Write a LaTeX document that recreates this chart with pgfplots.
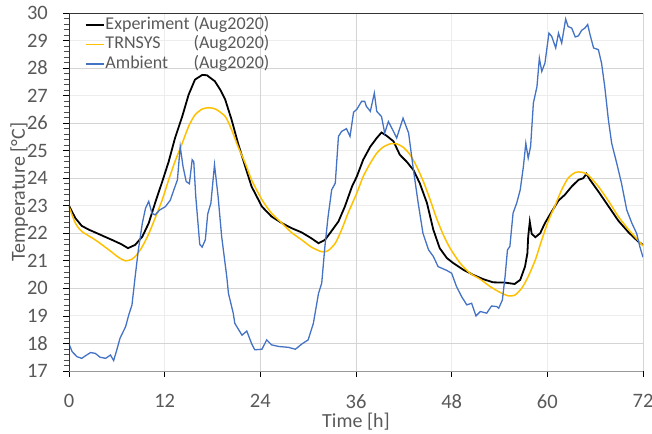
\documentclass[border=0pt]{standalone}
\usepackage{fontspec}
\setmainfont{Carlito}
\usepackage{pgfplots}
\pgfplotsset{compat=1.18}
\definecolor{expc}{HTML}{000000}
\definecolor{trn}{HTML}{FFC000}
\definecolor{amb}{HTML}{4472C4}
\definecolor{txt}{HTML}{595959}
\definecolor{gridA}{HTML}{D4D4D4}
\definecolor{gridB}{HTML}{EDEDED}
\begin{document}
\begin{tikzpicture}
\path[use as bounding box] (-69pt,-62pt) rectangle (583pt,371pt);
\begin{axis}[
  scale only axis, width=574pt, height=358pt,
  xmin=0, xmax=72, ymin=17, ymax=30,
  xtick={0,12,...,72}, ytick={17,...,30},
  minor y tick num=4,
  xtick pos=bottom, ytick pos=left,
  tick align=outside,
  major tick length=6pt, minor tick length=5pt,
  tick style={black, line width=0.7pt},
  minor tick style={black!70, line width=0.6pt},
  grid=major,
  major grid style={draw=gridB, line width=0.9pt},
  extra y ticks={18,20,...,28},
  extra y tick labels={},
  extra y tick style={grid=major, major grid style={draw=gridA, line width=0.9pt}},
  extra x ticks={24,36},
  extra x tick labels={},
  extra x tick style={grid=major, major grid style={draw=gridA, line width=0.9pt}},
  axis line style={draw=none},
  /pgf/number format/assume math mode=true,
  ticklabel style={font=\fontsize{20.5}{24}\selectfont, text=txt},
  yticklabel style={anchor=east, inner sep=0pt, xshift=-15pt},
  xticklabel style={anchor=north, inner sep=0pt, yshift=-17pt},
  xlabel={Time [h]},
  ylabel={Temperature [°C]},
  label style={font=\fontsize{20}{24}\selectfont, text=txt},
  xlabel style={at={(axis description cs:0.5,-0.1592)}, anchor=base, inner sep=0pt},
  ylabel style={at={(axis description cs:-0.0767,0.5)}, anchor=base, inner sep=0pt},
  legend style={at={(0.027,0.994)}, anchor=north west, draw=none, fill=none,
    font=\fontsize{18}{20}\selectfont, text=txt, inner sep=0pt, row sep=0pt,
    nodes={inner sep=1pt, text height=13pt, text depth=4.5pt}},
  legend cell align=left,
  legend image code/.code={\draw[#1] (0pt,0pt) -- (18pt,0pt);},
]
\addplot[expc, line width=1.8pt] coordinates {
(0,23.0) (0.8,22.55) (1.6,22.27) (2.5,22.13) (3.3,22.03) (4.3,21.9) (5.4,21.76) (6.6,21.6) (7.4,21.46) (8.3,21.58) (9.2,21.88) (10.0,22.37) (10.8,23.1) (11.7,23.88) (12.5,24.6) (13.3,25.46) (14.2,26.24) (15.0,27.03) (15.8,27.58) (16.7,27.75) (17.3,27.74) (18.3,27.52) (19.0,27.2) (19.6,26.85) (20.4,26.12) (21.2,25.27) (22.1,24.43) (22.9,23.7) (24.2,22.97) (25.4,22.61) (26.7,22.37) (27.9,22.19) (29.2,22.03) (30.4,21.82) (31.3,21.64) (32.1,21.76) (32.9,22.07) (33.8,22.43) (34.6,22.97) (35.5,23.7) (36.1,24.06) (36.9,24.67) (37.8,25.15) (38.6,25.46) (39.2,25.66) (39.85,25.54) (40.7,25.34) (41.5,24.85) (42.36,24.6) (43.2,24.3) (44.0,23.82) (44.9,23.1) (45.7,22.13) (46.5,21.46) (47.4,21.1) (48.2,20.92) (49.5,20.67) (50.7,20.49) (52.0,20.33) (53.2,20.22) (54.7,20.21) (55.9,20.16) (56.6,20.31) (57.2,20.79) (57.5,21.28) (57.6,21.88) (57.8,22.42) (58.04,21.98) (58.5,21.86) (59.1,22.0) (59.7,22.37) (60.55,22.79) (61.4,23.19) (62.2,23.4) (63.06,23.7) (63.9,23.94) (64.5,24.0) (64.9,24.16) (65.36,23.94) (66.4,23.52) (67.7,22.97) (68.9,22.46) (70.2,22.03) (71.4,21.7) (72.0,21.58)
};
\addlegendentry{Experiment (Aug2020)}
\addplot[trn, line width=1.5pt, smooth, tension=0.4] coordinates {
(0,22.97) (0.8,22.37) (1.6,22.07) (3.3,21.76) (5.0,21.4) (6.2,21.13) (7.1,21.0) (7.9,21.06) (8.5,21.22) (9.2,21.52) (10.0,21.98) (10.8,22.55) (11.7,23.22) (12.5,23.94) (13.3,24.61) (14.2,25.27) (15.0,25.88) (15.8,26.3) (16.7,26.51) (17.5,26.56) (18.4,26.51) (19.6,26.24) (20.4,25.76) (21.2,25.15) (22.1,24.55) (22.9,23.94) (24.2,23.22) (25.4,22.73) (26.7,22.37) (27.9,22.03) (29.2,21.76) (30.4,21.5) (31.7,21.33) (32.5,21.37) (33.4,21.64) (34.2,22.13) (35.0,22.73) (36.1,23.46) (36.9,24.06) (37.8,24.55) (38.6,24.91) (39.4,25.13) (40.3,25.25) (41.1,25.25) (41.9,25.13) (42.8,24.85) (43.6,24.43) (44.45,23.88) (45.3,23.22) (46.1,22.55) (46.96,21.94) (47.8,21.46) (49.05,20.92) (50.3,20.55) (51.6,20.33) (52.8,20.07) (54.1,19.85) (55.1,19.73) (55.9,19.75) (56.8,20.01) (57.6,20.43) (58.5,21.04) (59.3,21.76) (60.1,22.43) (61.0,23.03) (61.8,23.58) (62.6,24.0) (63.5,24.21) (64.3,24.22) (65.1,24.12) (66.4,23.7) (67.7,23.16) (68.9,22.61) (70.2,22.13) (71.4,21.74) (72.0,21.54)
};
\addlegendentry{\rlap{TRNSYS}\phantom{Experiment} (Aug2020)}
\addplot[amb, line width=1.3pt] coordinates {
(0,17.98) (0.4,17.7) (1.0,17.52) (1.6,17.46) (2.05,17.55) (2.7,17.67) (3.3,17.64) (3.9,17.5) (4.6,17.46) (5.2,17.58) (5.6,17.38) (6.0,17.77) (6.4,18.19) (7.1,18.61) (7.5,19.04) (7.9,19.4) (8.3,20.43) (8.7,21.4) (9.2,22.37) (9.6,22.91) (10.0,23.16) (10.4,22.73) (10.8,22.67) (11.4,22.85) (12.1,22.97) (12.7,23.2) (13.3,23.7) (13.6,23.94) (13.95,25.15) (14.3,24.43) (14.7,23.88) (15.1,23.8) (15.45,24.67) (15.65,24.6) (15.9,23.34) (16.4,21.6) (16.7,21.5) (17.1,21.76) (17.4,22.7) (17.8,23.1) (18.25,24.49) (18.7,23.34) (19.15,21.88) (19.8,20.4) (20.0,19.82) (20.6,19.1) (20.8,18.73) (21.7,18.3) (22.3,18.45) (22.9,18.0) (23.3,17.77) (24.2,17.79) (24.8,18.13) (25.4,17.95) (26.3,17.89) (27.5,17.86) (28.4,17.79) (29.2,17.98) (30.0,18.13) (30.65,18.73) (31.3,19.82) (31.7,20.19) (32.1,21.52) (32.5,22.61) (32.95,23.58) (33.4,23.82) (33.8,25.52) (34.2,25.7) (34.8,25.8) (35.25,25.52) (35.7,26.4) (36.1,26.5) (36.7,26.79) (37.1,26.79) (37.3,26.61) (37.8,26.43) (38.3,27.09) (38.6,26.43) (39.2,26.24) (39.6,25.64) (40.06,26.06) (40.7,25.7) (41.1,25.46) (41.9,26.18) (42.6,25.64) (43.2,24.31) (43.8,23.1) (44.4,22.0) (45.1,21.4) (45.7,21.16) (46.3,20.79) (47.4,20.65) (48.0,20.55) (48.6,20.07) (49.25,19.7) (49.9,19.4) (50.5,19.46) (51.05,19.0) (51.6,19.16) (52.4,19.1) (53.0,19.36) (53.65,19.34) (53.9,19.28) (54.36,19.58) (54.7,20.43) (55.0,21.4) (55.3,21.52) (55.7,22.73) (56.16,23.1) (56.6,23.58) (57.0,24.43) (57.3,25.27) (57.6,24.73) (57.9,25.15) (58.25,26.73) (58.7,27.33) (59.0,28.36) (59.3,27.88) (59.7,28.18) (60.2,29.27) (60.55,29.15) (61.05,28.73) (61.4,29.27) (61.8,28.91) (62.3,29.78) (62.6,29.51) (63.06,29.45) (63.5,29.13) (63.9,29.17) (64.3,29.37) (64.7,29.45) (65.06,29.58) (65.36,29.21) (65.8,28.73) (66.4,28.67) (66.8,28.18) (67.2,27.33) (67.66,26.12) (68.07,25.27) (68.7,24.55) (69.3,23.82) (69.96,22.85) (70.6,22.37) (71.2,22.0) (71.6,21.52) (72.0,21.13)
};
\addlegendentry{\rlap{Ambient}\phantom{Experiment} (Aug2020)}
\draw[black!40, line width=0.9pt] (rel axis cs:0,0) -- (rel axis cs:1,0);
\draw[black!80, line width=0.9pt] (rel axis cs:0,0) -- (rel axis cs:0,1) -- (rel axis cs:1,1) -- (rel axis cs:1,0);
\end{axis}
\end{tikzpicture}
\end{document}
